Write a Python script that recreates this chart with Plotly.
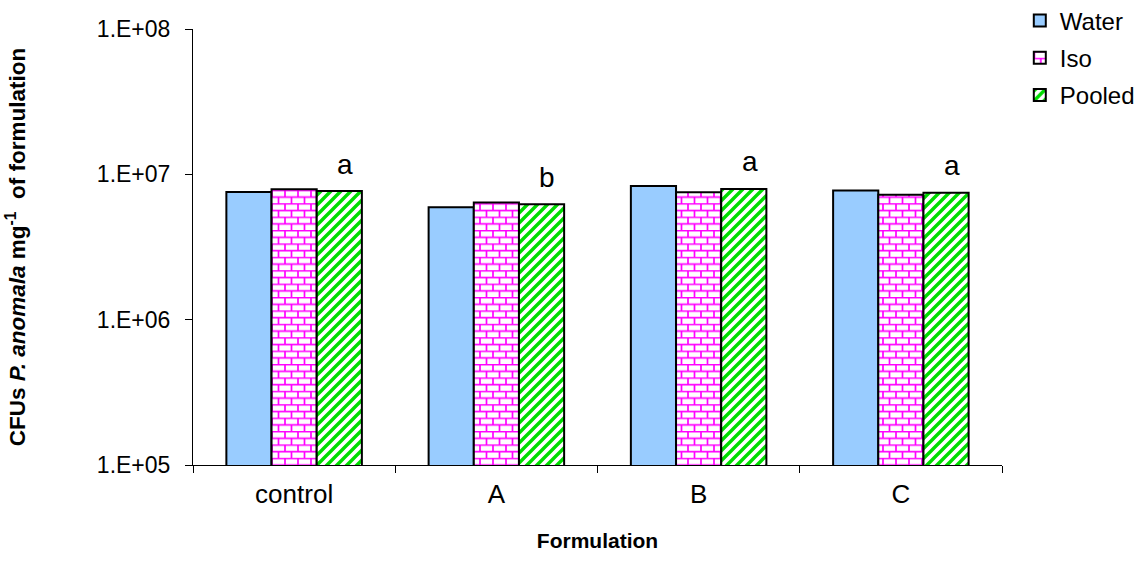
import math
import plotly.graph_objects as go

# CFU counts per formulation and wash treatment
formulations = ["control", "A", "B", "C"]
water = [7.55e6, 5.93e6, 8.30e6, 7.73e6]
iso = [7.89e6, 6.41e6, 7.52e6, 7.25e6]
pooled = [7.67e6, 6.22e6, 7.93e6, 7.48e6]
sig_letters = ["a", "b", "a", "a"]

tick_vals = [1e5, 1e6, 1e7, 1e8]
tick_text = ["1.E+05", "1.E+06", "1.E+07", "1.E+08"]

FONT = "Arial, Liberation Sans, sans-serif"
outline = dict(color="black", width=2)

fig = go.Figure()
fig.add_trace(go.Bar(
    name="Water", x=formulations, y=water, legendgroup="w",
    marker=dict(color="#99CCFF", line=outline),
))
fig.add_trace(go.Bar(
    name="Iso", x=formulations, y=iso, legendgroup="i",
    marker=dict(color="white", line=outline,
                pattern=dict(shape="+", fgcolor="#FF00FF", bgcolor="white",
                             size=13, solidity=0.15)),
))
fig.add_trace(go.Bar(
    name="Pooled", x=formulations, y=pooled, legendgroup="p",
    marker=dict(color="white", line=outline,
                pattern=dict(shape="/", fgcolor="#00DD00", bgcolor="white",
                             size=10, solidity=0.5)),
))

# significance letters above each group
for cat, letter, w, i, p in zip(formulations, sig_letters, water, iso, pooled):
    top = max(w, i, p)
    fig.add_annotation(
        x=cat, y=math.log10(top), xref="x", yref="y",
        text=letter, showarrow=False, xshift=51, yshift=25,
        yanchor="middle", font=dict(family=FONT, size=28, color="black"),
    )

fig.update_layout(
    width=1141, height=563,
    margin=dict(l=193, r=139, t=29, b=98, autoexpand=False),
    paper_bgcolor="white", plot_bgcolor="white",
    barmode="group", bargap=0.33, bargroupgap=0,
    font=dict(family=FONT, color="black"),
    showlegend=True,
    legend=dict(x=1.022, y=1.07, xanchor="left", yanchor="top",
                font=dict(family=FONT, size=24), tracegroupgap=3,
                itemsizing="constant", bgcolor="rgba(0,0,0,0)"),
    xaxis=dict(
        showline=True, linecolor="black", linewidth=1,
        ticks="outside", tickson="boundaries", ticklen=7, tickcolor="black",
        tickfont=dict(family=FONT, size=26), ticklabelstandoff=6,
        showgrid=False, zeroline=False,
        title=dict(text="<b>Formulation</b>", font=dict(family=FONT, size=21),
                   standoff=25),
    ),
    yaxis=dict(
        type="log", range=[5, 8],
        tickvals=tick_vals, ticktext=tick_text,
        showline=True, linecolor="black", linewidth=1,
        ticks="outside", ticklen=7, tickcolor="black",
        tickfont=dict(family=FONT, size=23), ticklabelstandoff=10,
        showgrid=False, zeroline=False,
        title=dict(text="<b>CFUs <i>P. anomala</i> mg<sup>-1</sup>  of formulation</b>",
                   font=dict(family=FONT, size=22.5), standoff=64),
    ),
)

# custom fills: brick for Iso, crisp diagonal stripes for Pooled
fill_js = """
(function(){
  var gd = document.getElementById('{plot_id}');
  var ns = 'http://www.w3.org/2000/svg';
  function mk(tag, attrs){
    var el = document.createElementNS(ns, tag);
    for (var k in attrs) el.setAttribute(k, attrs[k]);
    return el;
  }
  function apply(){
    var svg = gd.querySelector('svg.main-svg');
    var defs = svg.querySelector('defs');
    if (!document.getElementById('brickfill')) {
      var p = mk('pattern', {id: 'brickfill', patternUnits: 'userSpaceOnUse',
                             width: '13', height: '13.4'});
      p.appendChild(mk('rect', {width: '13', height: '13.4', fill: 'white'}));
      p.appendChild(mk('path', {d: 'M0,0.6H13 M0,7.3H13 M1,0.6V7.3 M7.5,7.3V13.4',
                                stroke: '#FF00FF', 'stroke-width': '1.7', fill: 'none'}));
      defs.appendChild(p);
      var s = mk('pattern', {id: 'stripefill', patternUnits: 'userSpaceOnUse',
                             width: '10', height: '10'});
      s.appendChild(mk('rect', {width: '10', height: '10', fill: 'white'}));
      s.appendChild(mk('path', {d: 'M-2,12L12,-2 M-7,7L7,-7 M3,17L17,3',
                                stroke: '#00DD00', 'stroke-width': '3.4', fill: 'none'}));
      defs.appendChild(s);
    }
    var fills = [null, 'url(#brickfill)', 'url(#stripefill)'];
    var groups = gd.querySelectorAll('.barlayer .trace.bars');
    var items = gd.querySelectorAll('.legend .traces');
    for (var t = 1; t < 3; t++) {
      if (groups.length > t) {
        groups[t].querySelectorAll('path').forEach(function(el){
          el.style.fill = fills[t];
        });
      }
      if (items.length > t) {
        items[t].querySelectorAll('.legendpoints path').forEach(function(el){
          el.style.fill = fills[t];
        });
      }
    }
  }
  apply();
  gd.on('plotly_afterplot', apply);
})();
"""

fig.write_html("out.html", post_script=fill_js)
